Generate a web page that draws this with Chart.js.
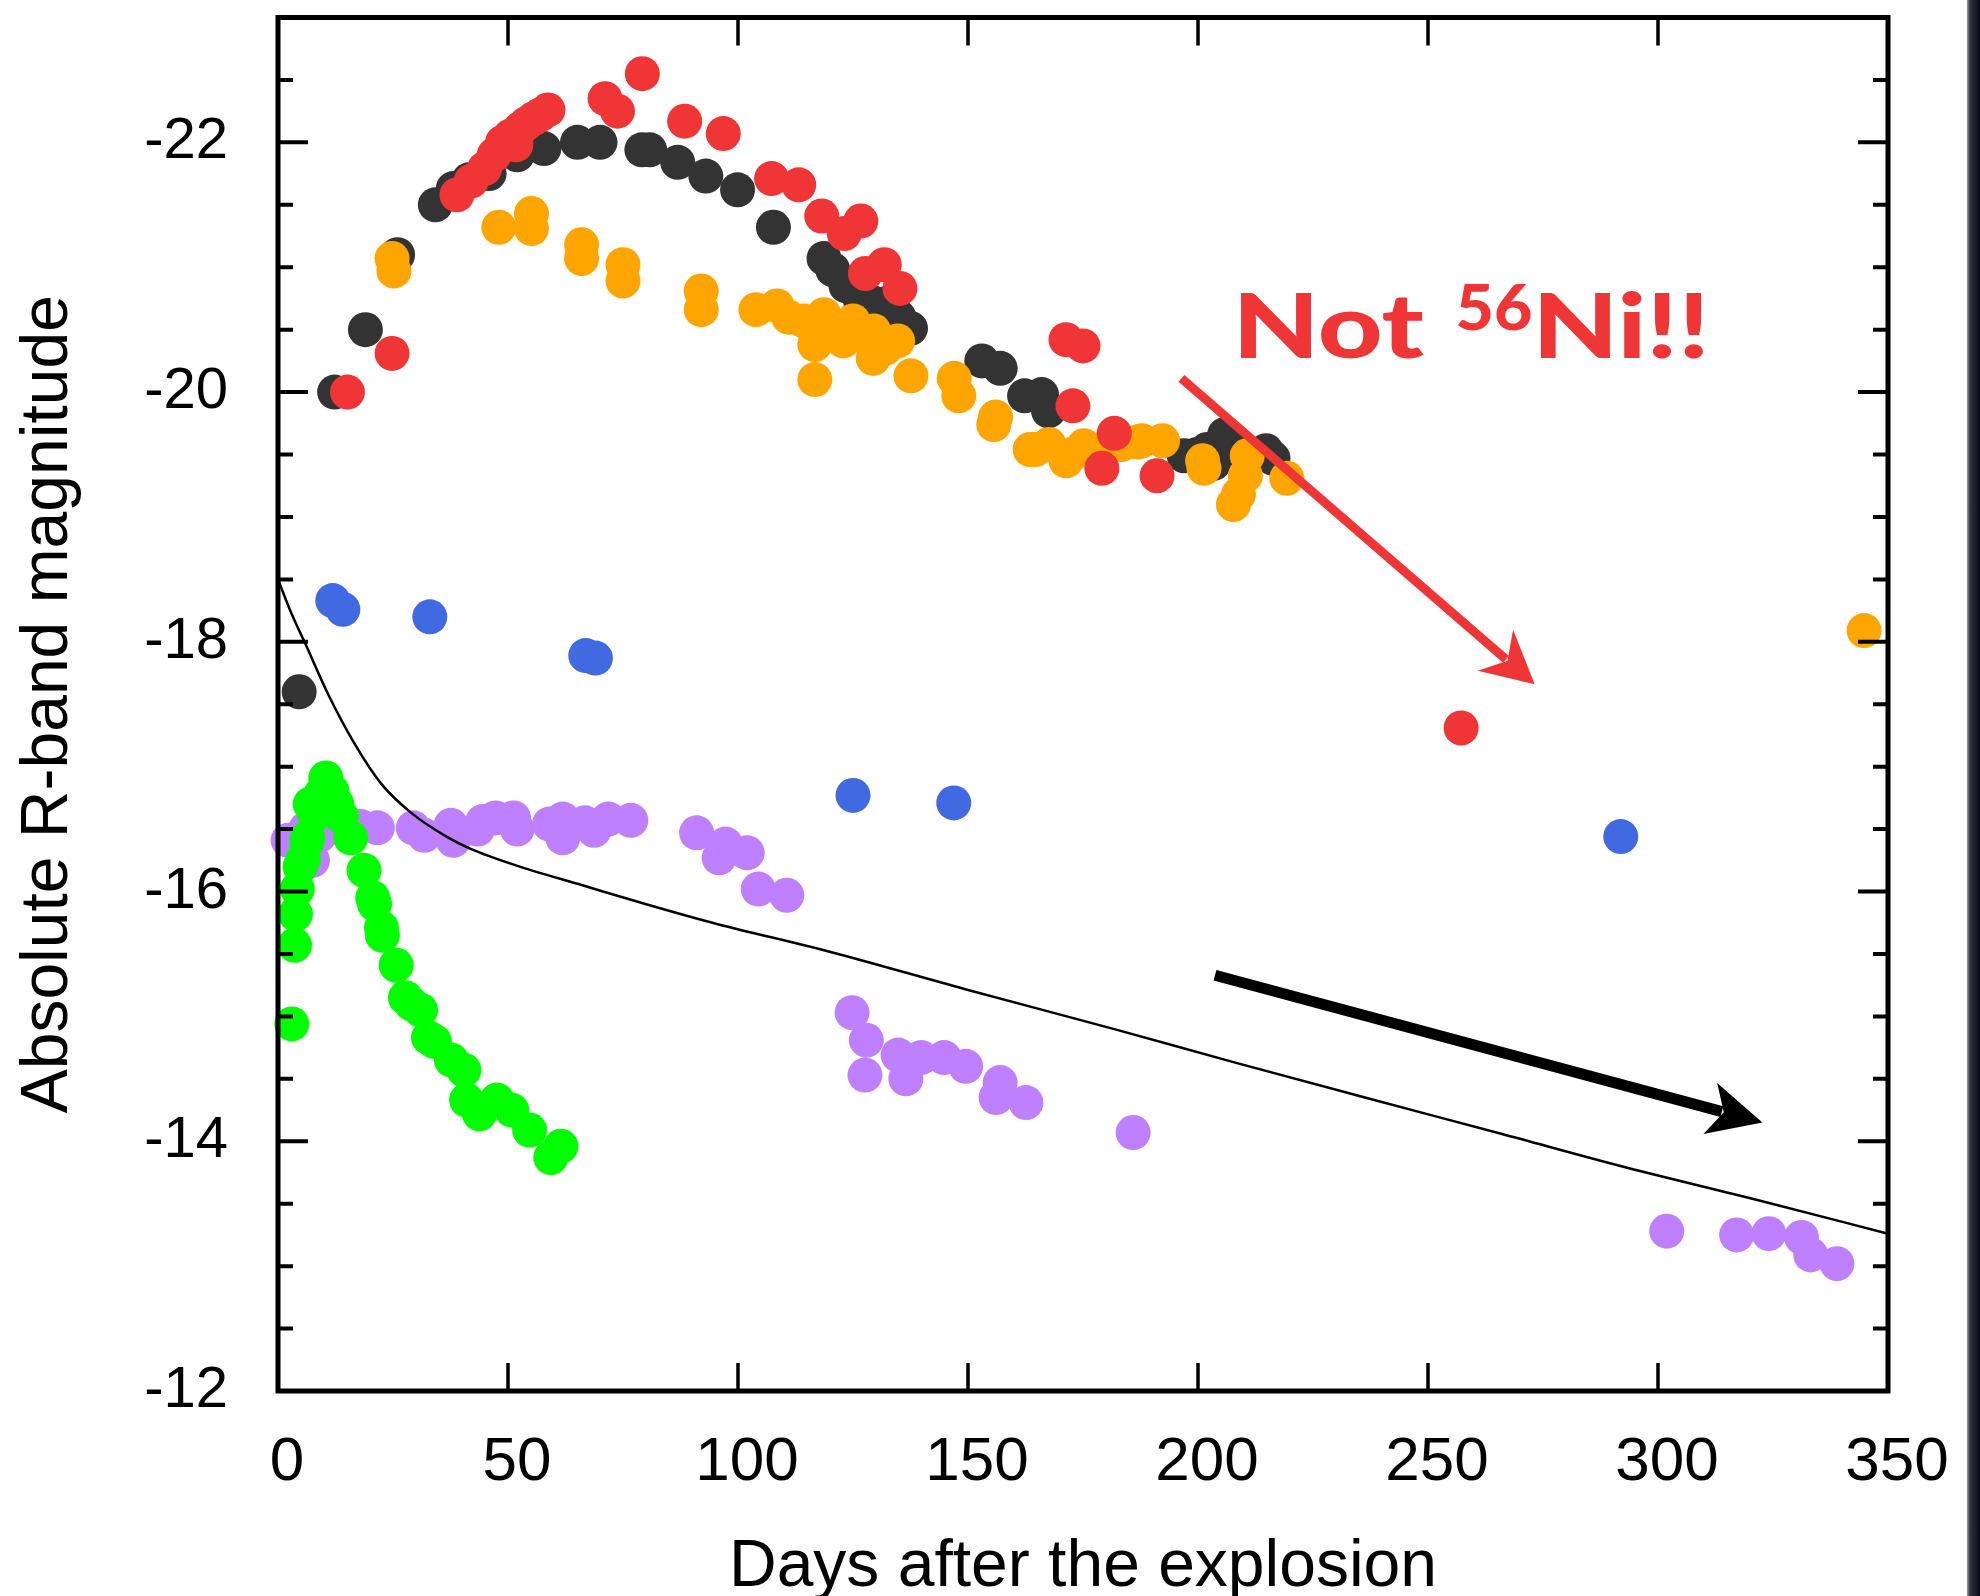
<!DOCTYPE html>
<html>
<head>
<meta charset="utf-8">
<script src="https://cdn.jsdelivr.net/npm/chart.js@4.4.1/dist/chart.umd.min.js"></script>
<style>
  html, body { margin: 0; padding: 0; background: #fff; }
  #wrap { position: relative; width: 1980px; height: 1596px; overflow: hidden; }
  #edge { position: absolute; top: 0; right: 0; width: 13px; height: 1596px;
          background: linear-gradient(to right, #9a9aa0 0px, #34343e 3px, #08081a 13px); }
</style>
</head>
<body>
<div id="wrap">
  <canvas id="lc" width="1980" height="1596"></canvas>
  <div id="edge"></div>
</div>
<script>
// light curves: [days after explosion, absolute R mag]
const blackPts = [[4.6,-17.6],[12.3,-20.0],[19,-20.5],[26,-21.1],[34.2,-21.5],[38.1,-21.63],[41.5,-21.7],[45.9,-21.75],
  [52,-21.9],[57.8,-21.95],[65.1,-22.0],[70,-22.0],[79.1,-21.94],[80.8,-21.94],[86.9,-21.84],[93,-21.73],[99.9,-21.62],
  [107.7,-21.32],[118.7,-21.07],[120.6,-20.98],[123.5,-20.85],[126.5,-20.75],[129,-20.72],[132.3,-20.71],[135,-20.6],
  [137.5,-20.51],[153,-20.25],[157,-20.19],[162.3,-19.97],[166,-19.98],[167.5,-19.85],[197,-19.49],[199.8,-19.5],
  [202,-19.54],[203.4,-19.43],[205.8,-19.66],[208,-19.55],[211.6,-19.5],[214.8,-19.53],[216.3,-19.47]];
const redPts = [[15.1,-20.0],[24.8,-20.31],[38.9,-21.58],[42,-21.69],[44.9,-21.79],[47,-21.9],[48.8,-22.0],[50.5,-22.05],
  [51.7,-21.98],[52.7,-22.11],[54,-22.15],[55.6,-22.19],[57,-22.22],[58.7,-22.26],[71.1,-22.35],[73.8,-22.25],[79.2,-22.55],
  [88.4,-22.17],[96.8,-22.07],[107.3,-21.71],[113.2,-21.66],[118.2,-21.41],[123.1,-21.27],[126.7,-21.37],[127.7,-20.95],
  [131.8,-21.02],[135.2,-20.83],[171.3,-20.42],[172.8,-19.89],[175,-20.37],[179.1,-19.39],[181.8,-19.67],[191.1,-19.33],
  [257.2,-17.31]];
const orangePts = [[24.8,-21.07],[25.2,-20.97],[48,-21.32],[55.1,-21.43],[55.1,-21.31],[66,-21.18],[66,-21.07],[75,-21.02],
  [75,-20.89],[92,-20.81],[92,-20.66],[103.9,-20.66],[108.5,-20.69],[111,-20.6],[114.3,-20.57],[116.7,-20.38],[116.7,-20.1],
  [118.7,-20.62],[120.5,-20.5],[122.9,-20.41],[125,-20.57],[127,-20.45],[129.4,-20.27],[129.5,-20.49],[132,-20.35],
  [134.7,-20.41],[137.6,-20.13],[147,-20.11],[148,-19.97],[155.6,-19.74],[156,-19.8],[163.5,-19.54],[164.6,-19.54],
  [167.6,-19.58],[171.3,-19.45],[172.5,-19.5],[175.2,-19.57],[178.8,-19.54],[183.3,-19.58],[186.8,-19.6],[187.8,-19.61],
  [192.3,-19.61],[201,-19.45],[201.3,-19.39],[207.7,-19.1],[208.8,-19.18],[210.3,-19.33],[210.7,-19.49],[219.3,-19.31],
  [344.8,-18.09]];
const bluePts = [[11.9,-18.33],[14.1,-18.26],[33,-18.2],[66.9,-17.89],[69,-17.87],[125,-16.77],[146.9,-16.71],[291.9,-16.44]];
const greenPts = [[3,-14.94],[3.6,-15.57],[3.8,-15.82],[4.2,-16.02],[4.8,-16.2],[5.5,-16.26],[6.3,-16.4],[6.5,-16.43],
  [7,-16.7],[8,-16.62],[9.3,-16.78],[10.4,-16.91],[11.8,-16.8],[12.8,-16.7],[13.8,-16.6],[15.8,-16.43],[18.7,-16.17],
  [20.6,-15.95],[21,-15.9],[22.5,-15.71],[22.7,-15.65],[25.7,-15.41],[27.7,-15.15],[29,-15.1],[31,-15.05],[32.7,-14.83],
  [34,-14.8],[37.7,-14.65],[40.4,-14.57],[41,-14.33],[43.8,-14.22],[47.6,-14.33],[50.8,-14.25],[54.7,-14.09],
  [59.3,-13.87],[61.5,-13.96]];
const purplePts = [[2.2,-16.41],[6,-16.5],[7.5,-16.25],[9,-16.45],[12,-16.55],[14,-16.5],[16,-16.5],[18,-16.52],
  [21.6,-16.51],[29.4,-16.51],[31.8,-16.45],[37.6,-16.53],[38.1,-16.41],[43.4,-16.5],[44.5,-16.56],[47.3,-16.59],
  [51.2,-16.59],[52,-16.5],[59,-16.54],[61.9,-16.58],[61.9,-16.43],[66.7,-16.55],[68.7,-16.49],[71.8,-16.58],
  [76.7,-16.57],[91,-16.47],[95.9,-16.27],[97.3,-16.38],[102,-16.31],[104.4,-16.02],[110.6,-15.97],[124.8,-15.03],
  [127.6,-14.53],[127.9,-14.81],[134.8,-14.69],[136.5,-14.5],[139.8,-14.67],[144.8,-14.67],[149.5,-14.6],[156.1,-14.35],
  [157,-14.47],[162.6,-14.31],[185.9,-14.07],[301.9,-13.28],[317.1,-13.25],[324.1,-13.26],[331.2,-13.23],[333.2,-13.09],
  [338.9,-13.02]];
// 56Ni -> 56Co decay curve
const modelPts = [[0,-18.5],[3,-18.22],[6,-17.98],[10.9,-17.58],[16.7,-17.18],[22.5,-16.86],[29.3,-16.62],[37.1,-16.43],
  [42,-16.34],[51.7,-16.21],[66.2,-16.05],[80.8,-15.89],[95.4,-15.74],[118.7,-15.53],[149.2,-15.22],[181.6,-14.9],
  [208.1,-14.63],[237.3,-14.34],[265.9,-14.06],[293.1,-13.79],[321.6,-13.53],[350,-13.26]];

const xTicks = [0, 50, 100, 150, 200, 250, 300, 350];
const yLabels = [-22, -20, -18, -16, -14, -12];

// annotation arrows: start and tip in data units
const redArrow = { from: [196.4, -20.11], to: [273.2, -17.66] };
const blackArrow = { from: [203.7, -15.33], to: [322.7, -14.15] };

const FONT = '"Liberation Sans", Arial, Helvetica, sans-serif';

function pts(a) { return a.map(p => ({ x: p[0], y: p[1] })); }

function dots(label, arr, color) {
  return { label, data: pts(arr), backgroundColor: color, borderWidth: 0,
           pointRadius: 17.5, pointHoverRadius: 17.5, clip: false };
}

function drawArrow(ctx, x, y, a, color, shaftW, headLen, halfW, notch) {
  const x0 = x.getPixelForValue(a.from[0]), y0 = y.getPixelForValue(a.from[1]);
  const x1 = x.getPixelForValue(a.to[0]), y1 = y.getPixelForValue(a.to[1]);
  const L = Math.hypot(x1 - x0, y1 - y0);
  const ux = (x1 - x0) / L, uy = (y1 - y0) / L;
  const nx = -uy, ny = ux;
  ctx.fillStyle = color;
  ctx.strokeStyle = color;
  ctx.lineWidth = shaftW;
  ctx.lineCap = 'butt';
  ctx.beginPath();
  ctx.moveTo(x0, y0);
  ctx.lineTo(x1 - ux * (notch + 2), y1 - uy * (notch + 2));
  ctx.stroke();
  ctx.beginPath();
  ctx.moveTo(x1, y1);
  ctx.lineTo(x1 - ux * headLen + nx * halfW, y1 - uy * headLen + ny * halfW);
  ctx.lineTo(x1 - ux * notch, y1 - uy * notch);
  ctx.lineTo(x1 - ux * headLen - nx * halfW, y1 - uy * headLen - ny * halfW);
  ctx.closePath();
  ctx.fill();
}

// draw a string so its glyphs fill [x0,x1] horizontally with the given cap height
function fitText(ctx, str, font, ref, x0, x1, base, capH) {
  ctx.font = font;
  const m = ctx.measureText(str);
  const r = ctx.measureText(ref);
  const w = m.actualBoundingBoxRight + m.actualBoundingBoxLeft;
  const sx = (x1 - x0) / w, sy = capH / r.actualBoundingBoxAscent;
  ctx.save();
  ctx.translate(x0 + m.actualBoundingBoxLeft * sx, base);
  ctx.scale(sx, sy);
  ctx.fillText(str, 0, 0);
  ctx.restore();
}

const framePlugin = {
  id: 'frame',
  afterDatasetsDraw(chart) {
    const { ctx, chartArea: a, scales: { x, y } } = chart;
    ctx.save();
    ctx.strokeStyle = '#000';
    ctx.lineCap = 'butt';
    ctx.lineWidth = 4;
    y.ticks.forEach(t => {
      if (t.value <= -23 || t.value >= -12) return;
      const py = y.getPixelForValue(t.value);
      const len = yLabels.includes(t.value) ? 30 : 15;
      ctx.beginPath();
      ctx.moveTo(a.left, py); ctx.lineTo(a.left + len, py);
      ctx.moveTo(a.right, py); ctx.lineTo(a.right - len, py);
      ctx.stroke();
    });
    ctx.lineWidth = 3.5;
    xTicks.forEach(v => {
      if (v <= 0 || v >= 350) return;
      const px = x.getPixelForValue(v);
      ctx.beginPath();
      ctx.moveTo(px, a.bottom); ctx.lineTo(px, a.bottom - 28);
      ctx.moveTo(px, a.top); ctx.lineTo(px, a.top + 28);
      ctx.stroke();
    });
    ctx.lineWidth = 5;
    ctx.strokeRect(a.left, a.top, a.right - a.left, a.bottom - a.top);

    drawArrow(ctx, x, y, redArrow, '#ef3535', 9, 52, 27, 36);
    drawArrow(ctx, x, y, blackArrow, '#000', 11, 54, 26.5, 40);

    ctx.fillStyle = '#ef3535';
    ctx.textBaseline = 'alphabetic';
    const bf = '900 100px Lato, "Open Sans", sans-serif';
    const base = y.getPixelForValue(-20.275), supBase = y.getPixelForValue(-20.5);
    fitText(ctx, 'Not', bf, 'N', x.getPixelForValue(209.2), x.getPixelForValue(249.2), base, 65);
    fitText(ctx, '56', bf, '5', x.getPixelForValue(256.4), x.getPixelForValue(272.4), supBase, 45);
    fitText(ctx, 'Ni!!', bf, 'N', x.getPixelForValue(274.4), x.getPixelForValue(309.9), base, 65);
    ctx.restore();
  }
};

new Chart(document.getElementById('lc'), {
  type: 'scatter',
  data: {
    datasets: [
      { type: 'line', label: 'model', data: pts(modelPts), borderColor: '#000', borderWidth: 2.5,
        pointRadius: 0, fill: false, cubicInterpolationMode: 'monotone', clip: false },
      dots('red', redPts, '#ef3535'),
      dots('orange', orangePts, '#ffa500'),
      dots('black', blackPts, '#333333'),
      dots('green', greenPts, '#00ff00'),
      dots('purple', purplePts, '#bf80ff'),
      dots('blue', bluePts, '#4169e1')
    ]
  },
  options: {
    responsive: false,
    animation: false,
    devicePixelRatio: 1,
    layout: { padding: { top: 15, right: 92, bottom: 0, left: 0 } },
    plugins: { legend: { display: false }, tooltip: { enabled: false } },
    scales: {
      x: {
        type: 'linear', min: 0, max: 350,
        afterBuildTicks: s => { s.ticks = xTicks.map(v => ({ value: v })); },
        afterFit: s => { s.height = 205; s.paddingLeft = 0; s.paddingRight = 0; },
        grid: { display: false }, border: { display: false },
        ticks: { color: '#000', font: { family: FONT, size: 62 }, padding: 27, labelOffset: 9, autoSkip: false, maxRotation: 0 },
        title: { display: true, text: 'Days after the explosion', color: '#000',
                 font: { family: FONT, size: 66, lineHeight: 1 }, padding: { top: 0, bottom: -5 } }
      },
      y: {
        type: 'linear', min: -23, max: -12, reverse: true,
        ticks: { stepSize: 0.5, autoSkip: false, color: '#000', font: { family: FONT, size: 58 }, padding: 42,
                 callback: v => yLabels.includes(v) ? String(v) : '' },
        afterFit: s => { s.width = 278; s.paddingTop = 0; s.paddingBottom = 0; },
        grid: { display: false }, border: { display: false },
        title: { display: true, text: 'Absolute R-band magnitude', color: '#000',
                 font: { family: FONT, size: 66, lineHeight: 1 }, padding: { top: 16, bottom: 0 } }
      }
    }
  },
  plugins: [framePlugin]
});
</script>
</body>
</html>
